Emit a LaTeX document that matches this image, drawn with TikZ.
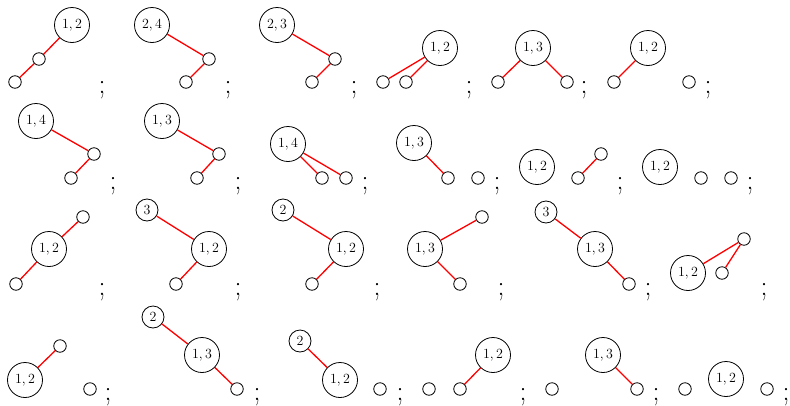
\documentclass[tikz,border=0pt]{standalone}
\usepackage{fontspec}
\begin{document}
\begin{tikzpicture}[x=1pt,y=-1pt,
  big/.style={circle,draw=black,line width=0.8pt,minimum size=35pt,inner sep=0pt,font=\fontsize{14}{16}\selectfont},
  med/.style={circle,draw=black,line width=0.8pt,minimum size=22pt,inner sep=0pt,font=\fontsize{14}{16}\selectfont},
  sm/.style={circle,draw=black,line width=0.8pt,minimum size=12.5pt,inner sep=0pt},
  edge/.style={red,line width=1.3pt},
  semi/.style={anchor=base,inner sep=0pt,font=\fontsize{28}{30}\selectfont}]
\useasboundingbox (0,0) rectangle (790,405);
% ---------- Row 1 ----------
\node[big] (a1) at (72,25) {1,\,2};
\node[sm] (a1b) at (39,59) {};
\node[sm] (a1c) at (15,82) {};
\draw[edge] (a1)--(a1b); \draw[edge] (a1b)--(a1c);
\node[semi] (sa1) at (102,93) {;};
\node[big] (a2) at (152,25) {2,\,4};
\node[sm] (a2b) at (209,59) {};
\node[sm] (a2c) at (186,82) {};
\draw[edge] (a2)--(a2b); \draw[edge] (a2b)--(a2c);
\node[semi] (sa2) at (228,93) {;};
\node[big] (a3) at (277,25) {2,\,3};
\node[sm] (a3b) at (335,59) {};
\node[sm] (a3c) at (312,82) {};
\draw[edge] (a3)--(a3b); \draw[edge] (a3b)--(a3c);
\node[semi] (sa3) at (354,93) {;};
\node[big] (a4) at (440,48) {1,\,2};
\node[sm] (a4b) at (383,82) {};
\node[sm] (a4c) at (406,82) {};
\draw[edge] (a4)--(a4b); \draw[edge] (a4)--(a4c);
\node[semi] (sa4) at (469,93) {;};
\node[big] (a5) at (533,48) {1,\,3};
\node[sm] (a5b) at (498,82) {};
\node[sm] (a5c) at (567,82) {};
\draw[edge] (a5)--(a5b); \draw[edge] (a5)--(a5c);
\node[semi] (sa5) at (584,93) {;};
\node[big] (a6) at (648,48) {1,\,2};
\node[sm] (a6b) at (614,82) {};
\node[sm] (a6c) at (689,82) {};
\draw[edge] (a6)--(a6b);
\node[semi] (sa6) at (708,93) {;};
% ---------- Row 2 ----------
\node[big] (b1) at (36,121) {1,\,4};
\node[sm] (b1b) at (94,154) {};
\node[sm] (b1c) at (71,178) {};
\draw[edge] (b1)--(b1b); \draw[edge] (b1b)--(b1c);
\node[semi] (sb1) at (113,189) {;};
\node[big] (b2) at (162,121) {1,\,3};
\node[sm] (b2b) at (219,154) {};
\node[sm] (b2c) at (197,178) {};
\draw[edge] (b2)--(b2b); \draw[edge] (b2b)--(b2c);
\node[semi] (sb2) at (238,189) {;};
\node[big] (b3) at (288,144) {1,\,4};
\node[sm] (b3b) at (322,178) {};
\node[sm] (b3c) at (346,178) {};
\draw[edge] (b3)--(b3b); \draw[edge] (b3)--(b3c);
\node[semi] (sb3) at (365,189) {;};
\node[big] (b4) at (414,143) {1,\,3};
\node[sm] (b4b) at (448,178) {};
\node[sm] (b4c) at (478,178) {};
\draw[edge] (b4)--(b4b);
\node[semi] (sb4) at (497,189) {;};
\node[big] (b5) at (537,167) {1,\,2};
\node[sm] (b5b) at (578,178) {};
\node[sm] (b5c) at (601,154) {};
\draw[edge] (b5b)--(b5c);
\node[semi] (sb5) at (620,189) {;};
\node[big] (b6) at (660,167) {1,\,2};
\node[sm] (b6b) at (701,178) {};
\node[sm] (b6c) at (731,178) {};
\node[semi] (sb6) at (750,189) {;};
% ---------- Row 3 ----------
\node[big] (c1) at (49,249) {1,\,2};
\node[sm] (c1b) at (83,217) {};
\node[sm] (c1c) at (16,284) {};
\draw[edge] (c1)--(c1b); \draw[edge] (c1)--(c1c);
\node[semi] (sc1) at (102,295) {;};
\node[med] (c2a) at (147,210) {3};
\node[big] (c2) at (209,249) {1,\,2};
\node[sm] (c2c) at (176,284) {};
\draw[edge] (c2a)--(c2); \draw[edge] (c2)--(c2c);
\node[semi] (sc2) at (238,295) {;};
\node[med] (c3a) at (283,210) {2};
\node[big] (c3) at (346,249) {1,\,2};
\node[sm] (c3c) at (312,284) {};
\draw[edge] (c3a)--(c3); \draw[edge] (c3)--(c3c);
\node[semi] (sc3) at (377,295) {;};
\node[big] (c4) at (425,249) {1,\,3};
\node[sm] (c4b) at (482,217) {};
\node[sm] (c4c) at (460,284) {};
\draw[edge] (c4)--(c4b); \draw[edge] (c4)--(c4c);
\node[semi] (sc4) at (501,295) {;};
\node[med] (c5a) at (546,212) {3};
\node[big] (c5) at (595,249) {1,\,3};
\node[sm] (c5c) at (629,284) {};
\draw[edge] (c5a)--(c5); \draw[edge] (c5)--(c5c);
\node[semi] (sc5) at (648,295) {;};
\node[big] (c6) at (688,273) {1,\,2};
\node[sm] (c6b) at (744,239) {};
\node[sm] (c6c) at (722,273) {};
\draw[edge] (c6)--(c6b); \draw[edge] (c6c)--(c6b);
\node[semi] (sc6) at (764,295) {;};
% ---------- Row 4 ----------
\node[big] (d1) at (25,380) {1,\,2};
\node[sm] (d1b) at (60,346) {};
\node[sm] (d1c) at (90,389) {};
\draw[edge] (d1)--(d1b);
\node[semi] (sd1) at (108,400) {;};
\node[med] (d2a) at (153,317) {2};
\node[big] (d2) at (202,355) {1,\,3};
\node[sm] (d2c) at (237,389) {};
\draw[edge] (d2a)--(d2); \draw[edge] (d2)--(d2c);
\node[semi] (sd2) at (257,400) {;};
\node[med] (d3a) at (300,341) {2};
\node[big] (d3) at (340,380) {1,\,2};
\node[sm] (d3c) at (380,389) {};
\draw[edge] (d3a)--(d3);
\node[semi] (sd3) at (400,400) {;};
\node[sm] (d4a) at (429,389) {};
\node[sm] (d4b) at (460,389) {};
\node[big] (d4) at (493,355) {1,\,2};
\draw[edge] (d4)--(d4b);
\node[semi] (sd4) at (523,400) {;};
\node[sm] (d5a) at (552,389) {};
\node[big] (d5) at (603,355) {1,\,3};
\node[sm] (d5c) at (637,389) {};
\draw[edge] (d5)--(d5c);
\node[semi] (sd5) at (656,400) {;};
\node[sm] (d6a) at (685,389) {};
\node[big] (d6) at (726,379) {1,\,2};
\node[sm] (d6c) at (767,389) {};
\node[semi] (sd6) at (786,400) {;};
\end{tikzpicture}
\end{document}
